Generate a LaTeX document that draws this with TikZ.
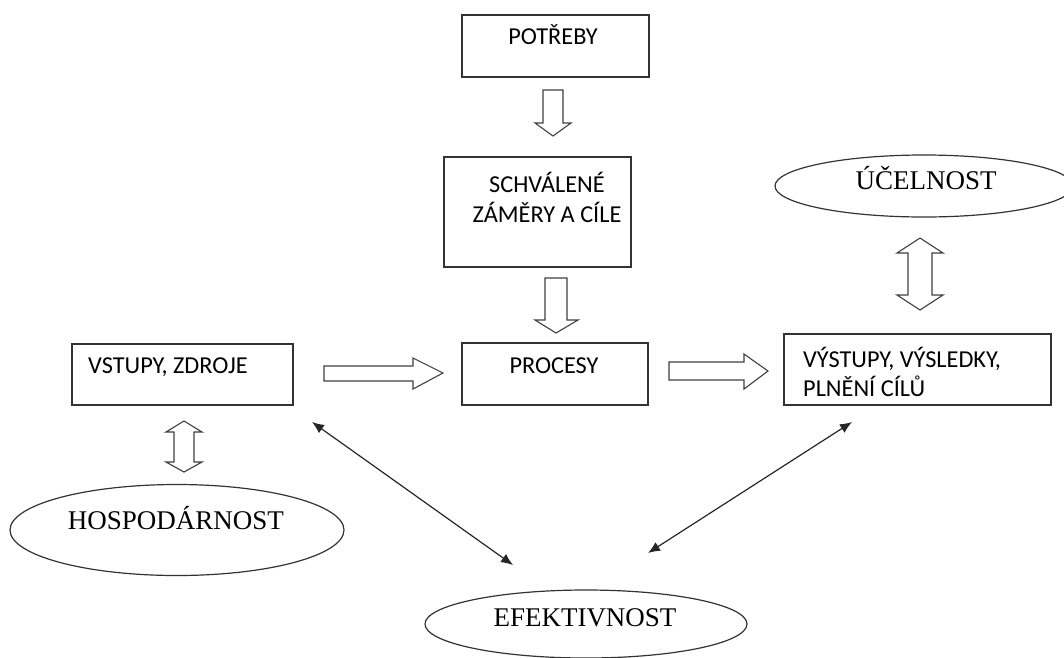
\documentclass[tikz,border=0pt]{standalone}
\usepackage{fontspec}
\setmainfont{Liberation Serif}
\newfontfamily\boxfont{Carlito}
\usetikzlibrary{shapes.geometric,arrows.meta}

\tikzset{
  box/.style={draw=black!80, line width=1.3pt, rectangle, inner sep=0pt},
  oval/.style={draw=black!80, line width=1.2pt, ellipse, inner sep=0pt},
  boxtext/.style={font=\boxfont\fontsize{24.3}{29}\selectfont, inner sep=0pt, anchor=base},
  ovaltext/.style={font=\fontsize{27}{32}\selectfont, inner sep=0pt, anchor=base},
  hollow/.style={draw=black!75, line width=1.1pt, fill=white, line join=miter},
  thin/.style={draw=black!85, line width=1.2pt, {Latex[length=12pt,width=10pt]}-{Latex[length=12pt,width=10pt]}}
}

\begin{document}
\begin{tikzpicture}[x=1pt, y=-1pt]
  \useasboundingbox (0,0) rectangle (1064,657);
  \clip (0,0) rectangle (1064,657);

  % rectangles
  \node[box, minimum width=187pt, minimum height=62pt]  (pot)  at (555.5,46)   {};
  \node[box, minimum width=187pt, minimum height=110pt] (sch)  at (537.5,212)  {};
  \node[box, minimum width=186pt, minimum height=62pt]  (proc) at (555,374)    {};
  \node[box, minimum width=221pt, minimum height=61pt]  (vst)  at (182.5,374.5){};
  \node[box, minimum width=267pt, minimum height=71pt]  (vys)  at (917.5,369.5){};

  \node[boxtext] (potT)  at (553,44)  {POTŘEBY};
  \node[boxtext] (schT1) at (547,192) {SCHVÁLENÉ};
  \node[boxtext] (schT2) at (547,222) {ZÁMĚRY A CÍLE};
  \node[boxtext] (procT) at (554,373) {PROCESY};
  \node[boxtext, anchor=base west] (vstT)  at (88,373)  {VSTUPY, ZDROJE};
  \node[boxtext, anchor=base west] (vysT1) at (803,367) {VÝSTUPY, VÝSLEDKY,};
  \node[boxtext, anchor=base west] (vysT2) at (803,396) {PLNĚNÍ CÍLŮ};

  % ellipses
  \node[oval, minimum width=298pt, minimum height=62pt] (uce) at (924,186) {};
  \node[oval, minimum width=334pt, minimum height=91pt] (hos) at (177,530) {};
  \node[oval, minimum width=322pt, minimum height=68pt] (efe) at (586,624) {};

  \node[ovaltext] (uceT) at (926,189) {ÚČELNOST};
  \node[ovaltext] (hosT) at (176,529) {HOSPODÁRNOST};
  \node[ovaltext] (efeT) at (585,626) {EFEKTIVNOST};

  % hollow block arrows
  \draw[hollow] (543,90) -- (563,90) -- (563,123) -- (571,123) -- (553,136)
                -- (535,123) -- (543,123) -- cycle;
  \draw[hollow] (545,278) -- (567,278) -- (567,320) -- (578,320) -- (556,333)
                -- (535,320) -- (545,320) -- cycle;
  \draw[hollow] (324,366) -- (413,366) -- (413,358) -- (443,373) -- (413,389)
                -- (413,381) -- (324,381) -- cycle;
  \draw[hollow] (669,362) -- (744,362) -- (744,354) -- (768,371) -- (744,389)
                -- (744,380) -- (669,380) -- cycle;
  \draw[hollow] (184,421) -- (202,432) -- (194,432) -- (194,462) -- (202,462)
                -- (184,472) -- (166,462) -- (174,462) -- (174,432) -- (166,432) -- cycle;
  \draw[hollow] (920,238) -- (943,253) -- (932,253) -- (932,295) -- (943,295)
                -- (920,310) -- (897,295) -- (908,295) -- (908,253) -- (897,253) -- cycle;

  % thin two-headed connectors
  \coordinate (vstC) at (312,422);
  \coordinate (efeL) at (513,565);
  \coordinate (vysC) at (852,422);
  \coordinate (efeR) at (648,553);
  \draw[thin] (vstC) -- (efeL);
  \draw[thin] (vysC) -- (efeR);
\end{tikzpicture}
\end{document}
